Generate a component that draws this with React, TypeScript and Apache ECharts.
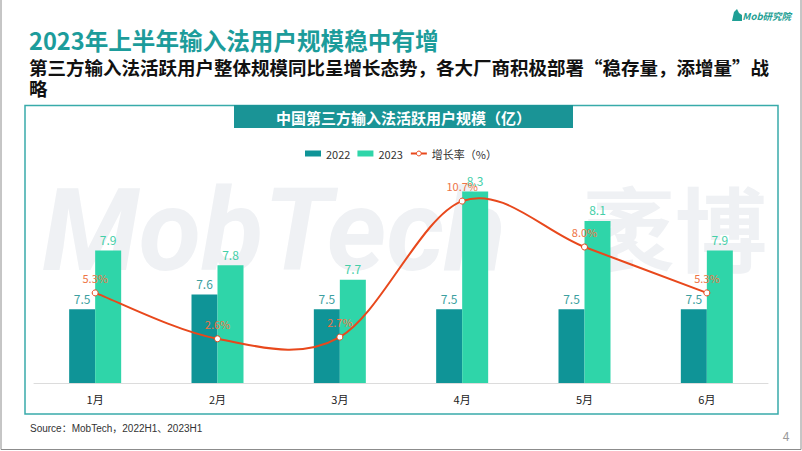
import React, { useEffect, useRef } from "react";
import * as echarts from "echarts";

const categories = ["1月", "2月", "3月", "4月", "5月", "6月"];
const users2022 = [7.5, 7.6, 7.5, 7.5, 7.5, 7.5];
const users2023 = [7.9, 7.8, 7.7, 8.3, 8.1, 7.9];
const growthRate = [5.3, 2.6, 2.7, 10.7, 8.0, 5.3];

const titleText = "2023年上半年输入法用户规模稳中有增";
const subtitleText = "第三方输入法活跃用户整体规模同比呈增长态势，各大厂商积极部署“稳存量，添增量”战\n略";
const chartTitle = "中国第三方输入法活跃用户规模（亿）";
const sourceText = "Source：MobTech，2022H1、2023H1";

const FONT = "'Noto Sans CJK SC', 'Noto Sans', sans-serif";
const LINE_COLOR = "#e8481c";

export default function App() {
  const ref = useRef<HTMLDivElement>(null);
  useEffect(() => {
    if (!ref.current) return;
    const chart = echarts.init(ref.current, null, { renderer: "svg" });

    // Excel-like Catmull-Rom smoothing of the growth-rate line, through the axis scales
    const renderCurve = (params: any, api: any) => {
      if (params.dataIndex !== 0) return null;
      const pts = growthRate.map((v, i) => api.coord([i, v]));
      const n = pts.length;
      let d = `M${pts[0][0]},${pts[0][1]}`;
      for (let i = 0; i < n - 1; i++) {
        const p0 = pts[Math.max(i - 1, 0)];
        const p1 = pts[i];
        const p2 = pts[i + 1];
        const p3 = pts[Math.min(i + 2, n - 1)];
        const c1x = p1[0] + (p2[0] - p0[0]) / 6;
        const c1y = p1[1] + (p2[1] - p0[1]) / 6;
        const c2x = p2[0] - (p3[0] - p1[0]) / 6;
        const c2y = p2[1] - (p3[1] - p1[1]) / 6;
        d += ` C${c1x},${c1y} ${c2x},${c2y} ${p2[0]},${p2[1]}`;
      }
      return {
        type: "path",
        shape: { pathData: d },
        style: { fill: null, stroke: LINE_COLOR, lineWidth: 2 },
      };
    };

    const option = {
      animation: false,
      backgroundColor: "#ffffff",
      textStyle: { fontFamily: FONT },
      legend: {
        top: 143,
        left: "center",
        itemWidth: 16,
        itemHeight: 6,
        itemGap: 7,
        textStyle: { fontSize: 11, color: "#333", fontFamily: FONT },
        data: [
          { name: "2022", icon: "rect" },
          { name: "2023", icon: "rect" },
          {
            name: "增长率（%）",
            lineStyle: { color: LINE_COLOR, width: 2, opacity: 1 },
            itemStyle: { color: "#ffffff", borderColor: LINE_COLOR, borderWidth: 1 },
          },
        ],
      },
      grid: { left: 34, right: 34, top: 162, bottom: 68 },
      xAxis: {
        type: "category",
        data: categories,
        axisLine: { show: true, lineStyle: { color: "#dcdcdc", width: 1 } },
        axisTick: { show: false },
        axisLabel: { color: "#222", fontSize: 11, margin: 10, fontFamily: FONT },
      },
      yAxis: [
        { type: "value", min: 7, max: 8.5, show: false, splitLine: { show: false } },
        { type: "value", min: 0, max: 13, show: false, splitLine: { show: false } },
      ],
      series: [
        {
          name: "2022",
          type: "bar",
          data: users2022,
          barWidth: 26,
          barGap: "0%",
          itemStyle: { color: "#0f9497" },
          label: {
            show: true,
            position: "top",
            distance: 5,
            color: "#3c9fa0",
            fontSize: 12,
            fontFamily: FONT,
            formatter: (p: any) => p.value.toFixed(1),
          },
        },
        {
          name: "2023",
          type: "bar",
          data: users2023,
          barWidth: 26,
          barGap: "0%",
          itemStyle: { color: "#2fd5a9" },
          label: {
            show: true,
            position: "top",
            distance: 5,
            color: "#44cfa8",
            fontSize: 12,
            fontFamily: FONT,
            formatter: (p: any) => p.value.toFixed(1),
          },
        },
        {
          name: "growthCurve",
          type: "custom",
          yAxisIndex: 1,
          data: growthRate.map((v, i) => [i, v]),
          encode: { x: 0, y: 1 },
          renderItem: renderCurve,
          silent: true,
          z: 4,
        },
        {
          name: "增长率（%）",
          type: "line",
          yAxisIndex: 1,
          data: growthRate,
          symbol: "circle",
          symbolSize: 6,
          lineStyle: { color: LINE_COLOR, width: 2, opacity: 0 },
          itemStyle: { color: "#ffffff", borderColor: LINE_COLOR, borderWidth: 1 },
          z: 5,
          label: {
            show: true,
            position: "top",
            distance: 6,
            color: "#ee7446",
            fontSize: 11,
            fontFamily: FONT,
            formatter: (p: any) => p.value.toFixed(1) + "%",
          },
        },
      ],
      graphic: [
        {
          type: "text",
          left: 42,
          top: 174,
          z: -10,
          style: {
            text: "MobTech",
            fontSize: 114,
            fontWeight: "bold",
            fontStyle: "italic",
            fontFamily: "Roboto, 'Open Sans', sans-serif",
            fill: "#eff1f4",
          },
        },
        {
          type: "text",
          left: 583,
          top: 178,
          z: -10,
          style: {
            text: "袤博",
            fontSize: 92,
            fontWeight: "bold",
            fontFamily: FONT,
            fill: "#eff1f4",
          },
        },
        {
          type: "polyline",
          shape: { points: [[1, 0], [1, 449.5], [801, 449.5], [801, 0]] },
          style: { stroke: "#8c8c8c", lineWidth: 1, fill: null },
        },
        {
          type: "rect",
          shape: { x: 25, y: 105.5, width: 753, height: 308.5 },
          style: { fill: null, stroke: "#38abaa", lineWidth: 1.5 },
        },
        {
          type: "rect",
          shape: { x: 234, y: 105, width: 339, height: 23 },
          style: { fill: "#1a9496" },
        },
        {
          type: "text",
          x: 403.5,
          y: 117,
          style: {
            text: chartTitle,
            fontSize: 15,
            fontWeight: "bold",
            fontFamily: FONT,
            fill: "#ffffff",
            align: "center",
            verticalAlign: "middle",
          },
        },
        {
          type: "text",
          x: 29,
          y: 40,
          style: {
            text: titleText,
            fontSize: 23.6,
            fontWeight: "bold",
            fontFamily: FONT,
            fill: "#1c9c9b",
            verticalAlign: "middle",
          },
        },
        {
          type: "text",
          x: 29,
          y: 56,
          style: {
            text: subtitleText,
            fontSize: 18.5,
            lineHeight: 21,
            fontWeight: "bold",
            fontFamily: FONT,
            fill: "#111111",
            verticalAlign: "top",
          },
        },
        {
          type: "text",
          x: 30,
          y: 428,
          style: {
            text: sourceText,
            fontSize: 10,
            fontFamily: "'Liberation Sans', Arial, " + FONT,
            fill: "#333333",
            verticalAlign: "middle",
          },
        },
        {
          type: "text",
          x: 786,
          y: 435,
          style: {
            text: "4",
            fontSize: 12,
            fontFamily: FONT,
            fill: "#9a9a9a",
            align: "center",
            verticalAlign: "middle",
          },
        },
        {
          type: "polygon",
          shape: { points: [[732, 21], [734, 12], [737, 9], [739, 13], [742, 15], [742, 21]] },
          style: { fill: "#1f9f95" },
        },
        {
          type: "text",
          x: 791,
          y: 16,
          style: {
            text: "Mob研究院",
            fontSize: 9.5,
            fontWeight: "bold",
            fontStyle: "italic",
            fontFamily: FONT,
            fill: "#1f9f95",
            align: "right",
            verticalAlign: "middle",
          },
        },
      ],
    };
    chart.setOption(option as any);
    return () => chart.dispose();
  }, []);
  return (
    <div
      ref={ref}
      style={{ position: "absolute", left: 0, top: 0, width: 802, height: 451 }}
    />
  );
}
